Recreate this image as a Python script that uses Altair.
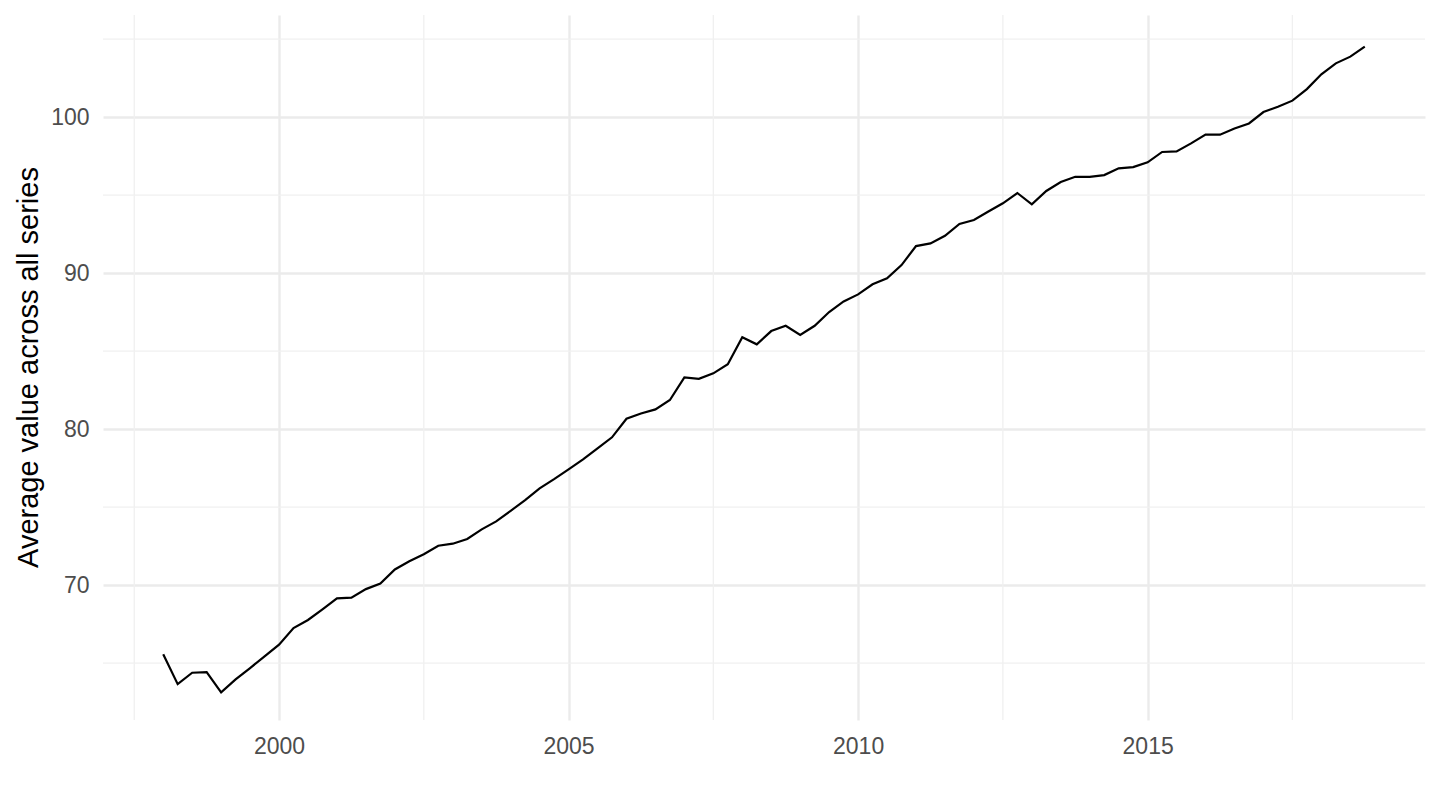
import altair as alt
import pandas as pd

# Quarterly observations, 1998 Q1 .. 2018 Q4 (84 quarters)
START_YEAR = 1998
AVG_VALUE = [
    65.56, 63.65, 64.38, 64.42,   # 1998
    63.12, 63.95, 64.68, 65.43,   # 1999
    66.18, 67.24, 67.76, 68.44,   # 2000
    69.15, 69.19, 69.74, 70.09,   # 2001
    71.00, 71.52, 71.97, 72.52,   # 2002
    72.65, 72.95, 73.57, 74.08,   # 2003
    74.76, 75.45, 76.20, 76.79,   # 2004
    77.41, 78.05, 78.76, 79.47,   # 2005
    80.66, 81.00, 81.26, 81.86,   # 2006
    83.31, 83.22, 83.57, 84.15,   # 2007
    85.88, 85.43, 86.28, 86.62,   # 2008
    86.03, 86.62, 87.50, 88.18,   # 2009
    88.63, 89.28, 89.66, 90.51,   # 2010
    91.73, 91.90, 92.39, 93.15,   # 2011
    93.40, 93.94, 94.47, 95.13,   # 2012
    94.40, 95.26, 95.83, 96.17,   # 2013
    96.17, 96.28, 96.71, 96.79,   # 2014
    97.10, 97.76, 97.80, 98.31,   # 2015
    98.87, 98.87, 99.27, 99.59,   # 2016
    100.32, 100.66, 101.05, 101.79,  # 2017
    102.74, 103.44, 103.87, 104.51,  # 2018
]
TIME = [START_YEAR + i / 4 for i in range(len(AVG_VALUE))]

X_MAJOR = [2000, 2005, 2010, 2015]
X_MINOR = [1997.5, 2002.5, 2007.5, 2012.5, 2017.5]
Y_MAJOR = [70, 80, 90, 100]
Y_MINOR = [65, 75, 85, 95, 105]

X_DOMAIN = [1996.96, 2019.79]
Y_DOMAIN = [61.35, 106.54]

Y_TITLE = "Average value across all series"
FONT = "Liberation Sans"

df = pd.DataFrame({"time": TIME, "value": AVG_VALUE})
xscale = alt.Scale(domain=X_DOMAIN, nice=False, zero=False)
yscale = alt.Scale(domain=Y_DOMAIN, nice=False, zero=False)

x_axis = alt.Axis(
    values=X_MAJOR,
    format="d",
    grid=True,
    gridColor="#EBEBEB",
    gridWidth=2.4,
    domain=False,
    ticks=False,
    tickSize=0,
    labelPadding=15,
    labelFont=FONT,
    labelFontSize=23,
    labelColor="#4D4D4D",
    orient="bottom",
)
y_axis = alt.Axis(
    values=Y_MAJOR,
    grid=True,
    gridColor="#EBEBEB",
    gridWidth=2.4,
    domain=False,
    ticks=False,
    tickSize=0,
    labelPadding=14,
    labelFont=FONT,
    labelFontSize=23,
    labelColor="#4D4D4D",
    titleFont=FONT,
    titleFontSize=29,
    titleFontWeight="normal",
    titleColor="black",
    titleX=-75,
    titleY=352,
    titleAlign="center",
    titleBaseline="middle",
    titleAngle=270,
    orient="left",
)

minor_x = alt.Chart(pd.DataFrame({"v": X_MINOR})).mark_rule(
    color="#F0F0F0", strokeWidth=1.3
).encode(x=alt.X("v:Q", scale=xscale, axis=x_axis, title=None))

minor_y = alt.Chart(pd.DataFrame({"v": Y_MINOR})).mark_rule(
    color="#F0F0F0", strokeWidth=1.3
).encode(y=alt.Y("v:Q", scale=yscale, axis=y_axis, title=Y_TITLE))

line = alt.Chart(df).mark_line(color="black", strokeWidth=2.2).encode(
    x=alt.X("time:Q", scale=xscale, axis=x_axis, title=None),
    y=alt.Y("value:Q", scale=yscale, axis=y_axis, title=Y_TITLE),
)

chart = (
    alt.layer(minor_x, minor_y, line)
    .properties(
        width=1322,
        height=705,
        padding={"left": 95, "top": 7, "right": 5, "bottom": 70},
        autosize=alt.AutoSizeParams(type="none"),
        background="white",
    )
    .configure_view(stroke=None)
)

chart.save("out.html", embed_options={"renderer": "svg", "actions": False})
